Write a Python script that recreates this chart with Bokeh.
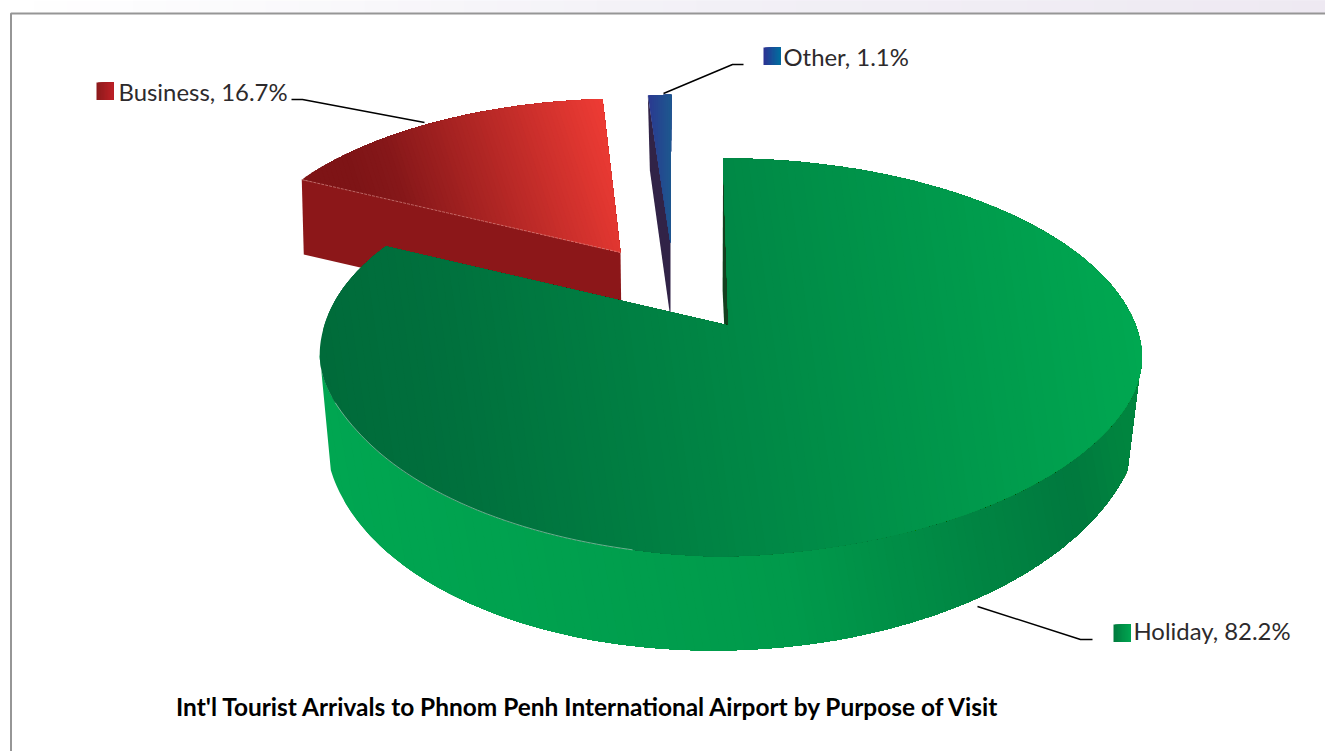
import numpy as np
from bokeh.plotting import figure
from bokeh.models import Range1d
from bokeh.core.properties import value
from bokeh.embed import file_html
from bokeh.resources import INLINE

LABELS = ["Holiday", "Business", "Other"]
VALUES = [82.2, 16.7, 1.1]
TITLE = "Int'l Tourist Arrivals to Phnom Penh International Airport by Purpose of Visit"

# gradient stops: (position 0..1, colour)
HOLIDAY_TOP = [(0.0, "#006b3a"), (0.15, "#00703d"), (1.0, "#00a851")]
HOLIDAY_WALL = [(0.0, "#00a651"), (0.55, "#009a4b"), (0.93, "#00793e"), (1.0, "#00853f")]
BUSINESS_TOP = [(0.0, "#7e1416"), (0.15, "#851719"), (1.0, "#f03c35")]
OTHER_TOP = [(0.0, "#2b3990"), (1.0, "#1c5a8f")]
KEYS = {
    "Holiday": [(0, "#007a3e"), (1, "#00a651")],
    "Business": [(0, "#8b1a1c"), (1, "#be2026")],
    "Other": [(0, "#2e3192"), (1, "#006f9f")],
}
SIDES = {"Holiday": "#14401f", "Business": "#8c1719", "Other": "#312347"}
TEXT_COLOR = "#2d2a2c"
FRAME_COLOR = "#969696"

p = figure(width=1325, height=751, output_backend="svg", toolbar_location=None,
           x_range=Range1d(0, 1325), y_range=Range1d(751, 0), min_border=0,
           x_axis_location=None, y_axis_location=None,
           background_fill_color="white", border_fill_color="white", outline_line_color=None)
p.grid.visible = False


def rgb(c):
    return np.array([int(c[i:i + 2], 16) for i in (1, 3, 5)], float)


def grad(stops, t):
    t = min(max(t, 0.0), 1.0)
    pos = [s[0] for s in stops]
    cols = np.array([rgb(s[1]) for s in stops])
    r = [np.interp(t, pos, cols[:, i]) for i in range(3)]
    return "#%02x%02x%02x" % tuple(int(round(v)) for v in r)


def clip(poly, f):
    """Keep the part of poly where f(x, y) >= 0."""
    out = []
    n = len(poly)
    for i in range(n):
        a, b = poly[i], poly[(i + 1) % n]
        fa, fb = f(*a), f(*b)
        if fa >= 0:
            out.append(a)
        if (fa >= 0) != (fb >= 0):
            u = fa / (fa - fb)
            out.append((a[0] + u * (b[0] - a[0]), a[1] + u * (b[1] - a[1])))
    return out


def gradient_fill(poly, stops, t0, t1, angle=0.0, n=70):
    """Paint poly in overlapping layers along a direction: each layer runs to the far end."""
    ca, sa = np.cos(np.radians(angle)), np.sin(np.radians(angle))
    proj = lambda x, y: x * ca + y * sa
    ts = [proj(*q) for q in poly]
    lo, hi = min(ts), max(ts)
    edges = np.linspace(lo, hi, n + 1)
    xs, ys, cols = [], [], []
    for e0, e1 in zip(edges[:-1], edges[1:]):
        pc = clip(poly, lambda x, y: proj(x, y) - e0)
        if len(pc) < 3:
            continue
        xs.append([q[0] for q in pc])
        ys.append([q[1] for q in pc])
        cols.append(grad(stops, ((e0 + e1) / 2 - t0) / (t1 - t0)))
    p.patches(xs, ys, fill_color=cols, line_color=None)


K = 0.161      # perspective strength


def ring(ax, ay, A, B, s, theta):
    """Pie-angle (deg clockwise from 12 o'clock) to a point of a tilted circle."""
    th = np.radians(theta)
    X, Y = np.sin(th), np.cos(th)
    w = 1 + K * Y
    return ax + (A * X + s * Y) / w, ay - B * Y / w


def arc(ax, ay, A, B, s, t0, t1, n=160):
    return [ring(ax, ay, A, B, s, t) for t in np.linspace(t0, t1, n)]


def holiday_rim(theta):
    """The big slice's rim: its front half sits a little flatter and further left."""
    th = np.radians(theta)
    X, Y = np.sin(th), np.cos(th)
    w = 1 + K * Y
    lean = -8 * Y + (20 * Y * abs(Y) if Y < 0 else 0)
    x = 729.5 + (405.7 * X + lean) / w
    y = 325 - 193.9 * Y / w
    if Y < 0:
        u = min(1.0, -Y / 0.6)
        y -= (15 if X < 0 else 6) * abs(X) * u * u * (3 - 2 * u)
    return x, y


def holiday_base(phi):
    """Lower edge of the big slice's wall."""
    th = np.radians(phi)
    return 733 + 408 * np.sin(th) + 20 * np.cos(th), 420 - 230 * np.cos(th)


cum = np.concatenate([[0], np.cumsum(VALUES)]) / sum(VALUES) * 360
ang = {l: (cum[i], cum[i + 1]) for i, l in enumerate(LABELS)}

# top band
gradient_fill([(0, 0), (1325, 0), (1325, 13), (0, 13)],
              [(0, "#ffffff"), (0.55, "#f2f0f6"), (1, "#eee9f2")], 0, 1325, n=40)

# Business
b0, b1 = ang["Business"]
BA = (620, 252, 382, 178.5, 5.5)
top = [(BA[0], BA[1])] + arc(*BA, b0, b1)
outer = ring(*BA, b0)
p.patch([outer[0], BA[0], BA[0] + 1, outer[0] + 2],
        [outer[1], BA[1], BA[1] + 75, outer[1] + 75],
        fill_color=SIDES["Business"], line_color=None)
gradient_fill(top, BUSINESS_TOP, 280, 545, angle=-18, n=70)
p.line([outer[0], BA[0]], [outer[1], BA[1]], line_color="#d98a86", line_width=0.7, line_dash="3 1")

# Other
o0, o1 = ang["Other"]
OA = (670, 243, 395, 172.6, 1)
outer = ring(*OA, o0)
p.patch([outer[0], OA[0], OA[0], outer[0] + 2],
        [outer[1], OA[1], OA[1] + 75, outer[1] + 75],
        fill_color=SIDES["Other"], line_color=None)
gradient_fill([(OA[0], OA[1])] + arc(*OA, o0, o1, n=12), OTHER_TOP, 648, 672, n=12)

# Holiday
h0, h1 = ang["Holiday"]
HB = (729, 441, 394.0, 175.3, -8)
o = holiday_rim(h0)
ob = ring(*HB, h0)
p.patch([o[0], 728, HB[0], ob[0]], [o[1], 325, HB[1], ob[1]],
        fill_color=SIDES["Holiday"], line_color=None)
wall = [holiday_rim(t) for t in np.linspace(99, 261, 160)] + [holiday_base(t) for t in np.linspace(257.5, 102.5, 160)]
gradient_fill(wall, HOLIDAY_WALL, 243, 1028, angle=-10, n=100)
top = [(728, 325)] + [holiday_rim(t) for t in np.linspace(h0, h1, 300)]
gradient_fill(top, HOLIDAY_TOP, 267, 1082, angle=-8, n=110)
hl = [holiday_rim(t) for t in np.linspace(190, 245, 40)]
p.line([q[0] for q in hl], [q[1] for q in hl], line_color="#ffffff", line_width=0.6, line_alpha=0.7)

# frame
p.line([10.5, 10.5, 1325], [751, 13, 13], line_color=FRAME_COLOR, line_width=2)

# leaders
leaders = {
    "Business": ([291, 302, 424], [99, 99, 122]),
    "Other": ([663, 732, 743], [93, 64, 64]),
    "Holiday": ([977, 1080, 1092], [606, 639, 639]),
}
for lab, (lx, ly) in leaders.items():
    p.line(lx, ly, line_color="#000000", line_width=1.5)

# labels and keys
slots = {"Business": (96, 82, 118, 90.5), "Other": (763, 47, 783, 55.5), "Holiday": (1113, 624, 1133, 630)}
for i, lab in enumerate(LABELS):
    kx, ky, tx, ty = slots[lab]
    gradient_fill([(kx, ky), (kx + 17, ky), (kx + 17, ky + 17.5), (kx, ky + 17.5)], KEYS[lab], kx, kx + 17, n=12)
    p.text([tx], [ty], text=[f"{lab}, {VALUES[i]}%"], text_font=value("Lato"), text_font_size="23.9px",
           text_color=TEXT_COLOR, text_baseline="middle", text_align="left")

p.text([175.5], [706], text=[TITLE], text_font=value("Lato"), text_font_style="bold", text_font_size="24.45px",
       text_color="#000000", text_baseline="middle", text_align="left")

open("out.html", "w").write(file_html(p, INLINE))
